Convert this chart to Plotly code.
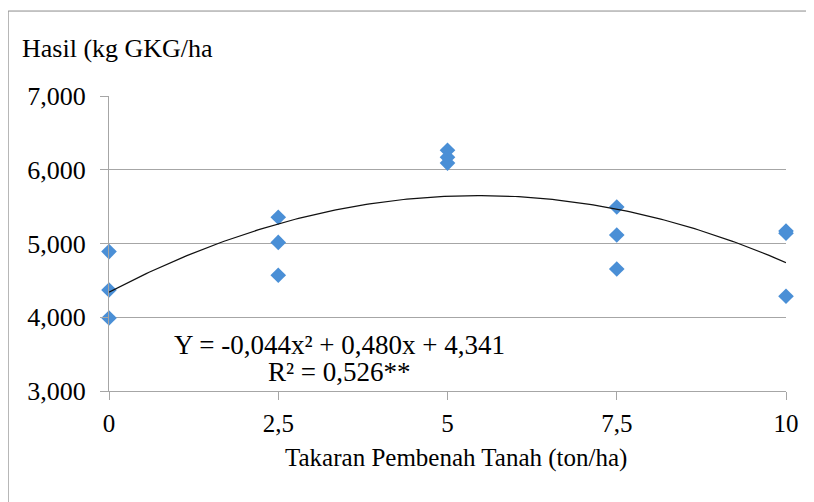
import plotly.graph_objects as go
import numpy as np

# Data (kg GKG/ha) per dose of soil amendment (ton/ha)
dose = [0, 0, 0, 2.5, 2.5, 2.5, 5, 5, 5, 7.5, 7.5, 7.5, 10, 10, 10]
yield_kg = [4890, 4370, 3990, 5355, 5015, 4570, 6265, 6170, 6090, 5495, 5115, 4655, 5170, 5140, 4285]

# Quadratic trend coefficients (thousands of kg): Y = a x^2 + b x + c
coef = [-0.044, 0.480, 4.341]

x_ticks = [0, 2.5, 5, 7.5, 10]
x_tick_labels = ["0", "2,5", "5", "7,5", "10"]
y_ticks = [3000, 4000, 5000, 6000, 7000]
y_tick_labels = ["3,000", "4,000", "5,000", "6,000", "7,000"]

xs = np.linspace(0, 10, 201)
ys = np.polyval(coef, xs) * 1000

FONT = "Liberation Serif, Times New Roman, serif"
TXT = "#000000"

fig = go.Figure()
fig.add_trace(go.Scatter(x=dose, y=yield_kg, mode="markers",
                         marker=dict(symbol="diamond", size=12, color="#4A8FD6"),
                         showlegend=False, cliponaxis=False))
fig.add_trace(go.Scatter(x=xs, y=ys, mode="lines",
                         line=dict(color="#111111", width=1.2),
                         showlegend=False))

fig.update_layout(
    width=806, height=494,
    margin=dict(l=101, r=28, t=88, b=111, autoexpand=False),
    paper_bgcolor="white", plot_bgcolor="white",
    font=dict(family=FONT, size=25, color=TXT),
    xaxis=dict(range=[0, 10], tickvals=x_ticks, ticktext=x_tick_labels,
               showgrid=False, zeroline=False, showline=True, linecolor="#a6a6a6", linewidth=1,
               ticks="outside", ticklen=8, tickcolor="#a6a6a6", ticklabelstandoff=2,
               tickfont=dict(family=FONT, size=25, color=TXT)),
    yaxis=dict(range=[3000, 7000], tickvals=y_ticks, ticktext=y_tick_labels,
               showgrid=True, gridcolor="#a6a6a6", gridwidth=1, zeroline=False,
               showline=True, linecolor="#a6a6a6", linewidth=1,
               ticks="outside", ticklen=8, tickcolor="#a6a6a6", ticklabelstandoff=9,
               tickfont=dict(family=FONT, size=26, color=TXT)),
    shapes=[dict(type="rect", xref="paper", yref="paper",
                 x0=-0.149, x1=1.2, y0=-0.6, y1=1.288,
                 line=dict(color="#8c8c8c", width=1), layer="below")],
    annotations=[
        dict(text="Hasil (kg GKG/ha", xref="paper", yref="paper",
             x=-0.1315, y=1.16, xanchor="left", yanchor="middle", showarrow=False,
             font=dict(family=FONT, size=26, color=TXT)),
        dict(text="Takaran Pembenah Tanah (ton/ha)", xref="paper", yref="paper",
             x=0.5126, y=-0.228, xanchor="center", yanchor="middle", showarrow=False,
             font=dict(family=FONT, size=25, color=TXT)),
        dict(text="Y = -0,044x² + 0,480x + 4,341", xref="paper", yref="paper",
             x=0.341, y=0.155, xanchor="center", yanchor="middle",
             showarrow=False, font=dict(family=FONT, size=27, color=TXT)),
        dict(text="R² = 0,526**", xref="paper", yref="paper",
             x=0.340, y=0.0635, xanchor="center", yanchor="middle",
             showarrow=False, font=dict(family=FONT, size=27, color=TXT)),
    ],
)

fig.write_html("out.html")
